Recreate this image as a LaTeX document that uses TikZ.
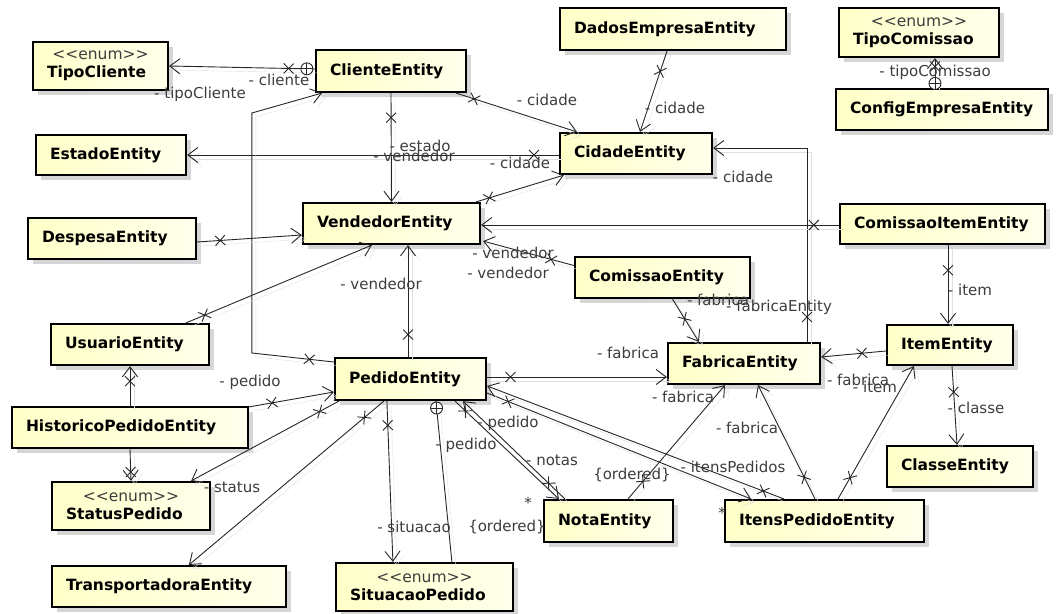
\documentclass[tikz,border=0pt]{standalone}
\usepackage{fontspec}
\setmainfont{DejaVu Sans}
\usepackage{tikz}
\usetikzlibrary{arrows.meta,calc,shapes.misc,shadows}

\definecolor{entleft}{RGB}{255,255,200}
\definecolor{entright}{RGB}{255,255,236}
\definecolor{lblgray}{RGB}{60,60,60}

\newcommand{\entfont}{\fontsize{15.5}{18}\selectfont\bfseries}
\newcommand{\lblfont}{\fontsize{15}{17}\selectfont}
\newcommand{\enumtag}{\makebox[\hsize]{\mdseries\fontsize{15.5}{18}\selectfont\color{lblgray}<\kern0pt<enum>\kern0pt>}}

\tikzset{
  entity/.style={draw, line width=2.2pt, left color=entleft, right color=entright,
    drop shadow={shadow xshift=5pt, shadow yshift=-5pt, fill=black!16, opacity=1},
    font=\entfont, align=left, inner xsep=14pt, inner ysep=0pt},
  assoc/.style={draw=black!85, line width=0.9pt, -{Straight Barb[length=10pt,width=15pt]},
    preaction={draw=black!12, transform canvas={xshift=4pt,yshift=-4pt}}},
  link/.style={draw=black!85, line width=0.9pt,
    preaction={draw=black!12, transform canvas={xshift=4pt,yshift=-4pt}}},
  xmark/.style={cross out, draw=black!85, arrows=-, sloped, minimum size=9pt, inner sep=0pt, line width=0.9pt},
  owned/.style={circle, draw=black!85, arrows=-, fill=white, minimum size=12pt, inner sep=0pt, line width=0.9pt,
    path picture={\draw[-, line width=0.9pt] (path picture bounding box.north) -- (path picture bounding box.south)
      (path picture bounding box.west) -- (path picture bounding box.east);}},
  lbl/.style={font=\lblfont, text=lblgray, inner sep=1pt},
}

\begin{document}
\begin{tikzpicture}[x=1pt, y=-1pt]
\useasboundingbox (0,0) rectangle (1057,613);

% classes
\node[entity, minimum height=48pt, text width=107pt] (tipocliente) at (100.5,66) {\enumtag\\TipoCliente};
\node[entity, minimum height=42pt, text width=122pt] (cliente) at (391,71) {ClienteEntity};
\node[entity, minimum height=42pt, text width=198pt] (dados) at (673,29) {DadosEmpresaEntity};
\node[entity, minimum height=49pt, text width=132pt] (tipocomissao) at (919,32.5) {\enumtag\\TipoComissao};
\node[entity, minimum height=41pt, text width=184pt] (config) at (942,109.5) {ConfigEmpresaEntity};
\node[entity, minimum height=40pt, text width=122pt] (estado) at (111,155) {EstadoEntity};
\node[entity, minimum height=41pt, text width=124pt] (cidade) at (636,153.5) {CidadeEntity};
\node[entity, minimum height=41pt, text width=149pt] (vendedor) at (391.5,223.5) {VendedorEntity};
\node[entity, minimum height=41pt, text width=140pt] (despesa) at (112,238.5) {DespesaEntity};
\node[entity, minimum height=40pt, text width=177pt] (comissaoitem) at (942.5,224) {ComissaoItemEntity};
\node[entity, minimum height=41pt, text width=147pt] (comissao) at (662.5,277.5) {ComissaoEntity};
\node[entity, minimum height=41pt, text width=124pt] (fabrica) at (744,363.5) {FabricaEntity};
\node[entity, minimum height=40pt, text width=98pt] (item) at (950,345) {ItemEntity};
\node[entity, minimum height=41pt, text width=130pt] (usuario) at (130,344.5) {UsuarioEntity};
\node[entity, minimum height=42pt, text width=123pt] (pedido) at (410.5,379) {PedidoEntity};
\node[entity, minimum height=41pt, text width=208pt] (historico) at (130,427.5) {HistoricoPedidoEntity};
\node[entity, minimum height=48pt, text width=130pt] (statuspedido) at (131,506) {\enumtag\\StatusPedido};
\node[entity, minimum height=41pt, text width=206pt] (transportadora) at (169,586.5) {TransportadoraEntity};
\node[entity, minimum height=48pt, text width=149pt] (situacao) at (424.5,587) {\enumtag\\SituacaoPedido};
\node[entity, minimum height=42pt, text width=101pt] (nota) at (608.5,521) {NotaEntity};
\node[entity, minimum height=42pt, text width=171pt] (itenspedido) at (824.5,521) {ItensPedidoEntity};
\node[entity, minimum height=41pt, text width=118pt] (classe) at (960,466.5) {ClasseEntity};

% associations
\draw[assoc] ($(cliente.west)+(0,-2)$) -- node[owned, pos=0.055]{} node[xmark, pos=0.18]{} (tipocliente.east);
\draw[assoc] ($(cliente.south east)+(-11,0)$) -- node[xmark, pos=0.15]{} ($(cidade.north west)+(18,0)$);
\draw[assoc] ($(dados.south)+(-6,0)$) -- node[xmark, pos=0.25]{} ($(cidade.north)+(4,0)$);
\draw[assoc] ($(config.north)+(-7,0)$) -- node[owned, pos=0.15]{} node[xmark, pos=0.72]{} ($(tipocomissao.south)+(16,0)$);
\draw[assoc] ($(cidade.west)+(0,1.5)$) -- node[xmark, pos=0.067]{} (estado.east);
\draw[assoc] (cliente.south) -- node[xmark, pos=0.225]{} (vendedor.north);
\draw[assoc] ($(vendedor.north east)+(-5,0)$) -- node[xmark, pos=0.15]{} ($(cidade.south west)+(5,0)$);
\draw[assoc] ($(fabrica.north)+(63,0)$) |- node[xmark, pos=0.064]{} ($(cidade.east)+(0,-5.5)$);
\draw[assoc] ($(comissaoitem.west)+(0,1)$) -- node[xmark, pos=0.07]{} ($(vendedor.east)+(0,1.5)$);
\draw[assoc] ($(comissao.west)+(0,-12)$) -- node[xmark, pos=0.25]{} ($(vendedor.south east)+(2,-4)$);
\draw[assoc] ($(comissao.south)+(10,0)$) -- node[xmark, pos=0.46]{} ($(fabrica.north west)+(32,0)$);
\draw[assoc] ($(comissaoitem.south)+(5.5,0)$) -- node[xmark, pos=0.32]{} ($(item.north)+(-2,0)$);
\draw[assoc] ($(item.west)+(0,6)$) -- node[xmark, pos=0.37]{} ($(fabrica.east)+(0,-6.5)$);
\draw[assoc] ($(item.south)+(2,0)$) -- node[xmark, pos=0.33]{} ($(classe.north)+(-3,0)$);
\draw[assoc] ($(itenspedido.north)+(13.5,0)$) -- node[xmark, pos=0.16]{} ($(item.south west)+(28,0)$);
\draw[assoc] ($(itenspedido.north)+(-9.5,0)$) -- node[xmark, pos=0.19]{} ($(fabrica.south)+(14,0)$);
\draw[assoc] ($(nota.north)+(19.5,0)$) -- node[xmark, pos=0.155]{} ($(fabrica.south)+(-19,0)$);
\draw[assoc] ($(pedido.east)+(0,-2)$) -- node[xmark, pos=0.13]{} ($(fabrica.west)+(0,13.5)$);
\draw[assoc] ($(pedido.south)+(44.5,0)$) -- node[xmark, pos=0.1]{} ($(nota.north west)+(16,0)$);
\draw[assoc] ($(nota.north west)+(22,0)$) -- node[xmark, pos=0.16]{} ($(pedido.south)+(52.5,0)$);
\draw[assoc] ($(pedido.east)+(0,14)$) -- node[xmark, pos=0.08]{} ($(itenspedido.north west)+(27,0)$);
\draw[assoc] ($(itenspedido.north west)+(60,0)$) -- node[xmark, pos=0.07]{} ($(pedido.east)+(0,7)$);
\draw[assoc] ($(pedido.north)+(-2.5,0)$) -- node[xmark, pos=0.2]{} ($(vendedor.south)+(16.5,0)$);
\draw[assoc] ($(pedido.west)+(0,-17)$) -- node[xmark, pos=0.3]{} ++(-82,-9) -- ++(0,-240) -- ($(cliente.south west)+(7,0)$);
\draw[assoc] ($(usuario.north east)+(-24,0)$) -- node[xmark, pos=0.1]{} ($(vendedor.south west)+(70,0)$);
\draw[assoc] (historico.north) -- node[xmark, pos=0.62]{} (usuario.south);
\draw[assoc] (historico.south) -- node[xmark, pos=0.72]{} (statuspedido.north);
\draw[assoc] ($(pedido.south west)+(5,0)$) -- node[xmark, pos=0.13]{} ($(statuspedido.north east)+(-20,0)$);
\draw[assoc] ($(pedido.south west)+(50,0)$) -- node[xmark, pos=0.1]{} ($(transportadora.north west)+(138,0)$);
\draw[assoc] ($(pedido.south west)+(53,0)$) -- node[xmark, pos=0.15]{} ($(situacao.north west)+(58,0)$);
\draw[link] ($(situacao.north west)+(117,0)$) -- node[owned, pos=0.957]{} ($(pedido.south west)+(102,0)$);
\draw[assoc] ($(historico.north east)+(0,1)$) -- node[xmark, pos=0.27]{} ($(pedido.west)+(0,13)$);
\draw[assoc] ($(despesa.east)+(0,3.5)$) -- node[xmark, pos=0.22]{} ($(vendedor.west)+(0,11.5)$);

% role labels
\node[lbl] (lbcliente) at (279,80) {- cliente};
\node[lbl] (lbtipocliente) at (200,94) {- tipoCliente};
\node[lbl] (lbcidadea) at (547,100) {- cidade};
\node[lbl] (lbcidadeb) at (675,108) {- cidade};
\node[lbl] (lbtipocomissao) at (935,72) {- tipoComissao};
\node[lbl] (lbestado) at (420,146) {- estado};
\node[lbl] (lbvendedora) at (414,156) {- vendedor};
\node[lbl] (lbcidadec) at (520,163) {- cidade};
\node[lbl] (lbcidaded) at (743,177) {- cidade};
\node[lbl] (lbvendedorb) at (513,253) {- vendedor};
\node[lbl] (lbvendedorc) at (508,273) {- vendedor};
\node[lbl] (lbvendedord) at (381,284) {- vendedor};
\node[lbl] (lbfabricaa) at (718,300) {- fabrica};
\node[lbl] (lbfabricaentity) at (779,307) {- fabricaEntity};
\node[lbl] (lbitema) at (970,290) {- item};
\node[lbl] (lbfabricab) at (628,353) {- fabrica};
\node[lbl] (lbfabricac) at (858,380) {- fabrica};
\node[lbl] (lbitemb) at (875,387) {- item};
\node[lbl] (lbclasse) at (976,408) {- classe};
\node[lbl] (lbfabricad) at (683,397) {- fabrica};
\node[lbl] (lbfabricae) at (747,428) {- fabrica};
\node[lbl] (lbitens) at (733,467) {- itensPedidos};
\node[lbl] (lbpedidoa) at (508,423) {- pedido};
\node[lbl] (lbpedidob) at (466,445) {- pedido};
\node[lbl] (lbnotas) at (552,460) {- notas};
\node[lbl] (lbordereda) at (632,475) {\{ordered\}};
\node[lbl] (lbstara) at (528,503) {*};
\node[lbl] (lbsituacao) at (414,527) {- situacao};
\node[lbl] (lborderedb) at (507,527) {\{ordered\}};
\node[lbl] (lbstarb) at (722,513) {*};
\node[lbl] (lbpedidoc) at (250,382) {- pedido};
\node[lbl] (lbstatus) at (232,487) {- status};
\end{tikzpicture}
\end{document}
